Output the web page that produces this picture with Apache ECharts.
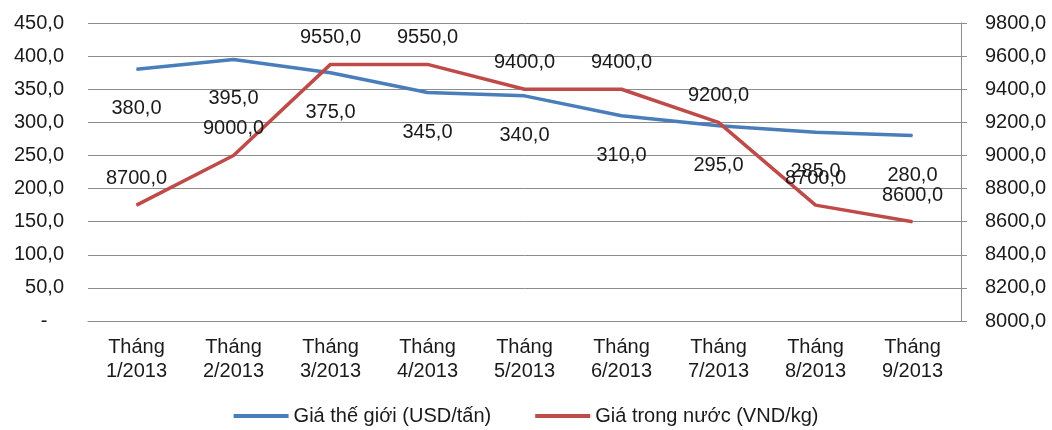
<!DOCTYPE html>
<html><head><meta charset="utf-8">
<script src="https://cdn.jsdelivr.net/npm/echarts@6/dist/echarts.min.js"></script>
<style>html,body{margin:0;padding:0;background:#fff}#c{width:1052px;height:430px}</style>
</head><body><div id="c"></div>
<script>
const categories = ['Tháng\n1/2013','Tháng\n2/2013','Tháng\n3/2013','Tháng\n4/2013','Tháng\n5/2013','Tháng\n6/2013','Tháng\n7/2013','Tháng\n8/2013','Tháng\n9/2013'];
const worldPrice = [380,395,375,345,340,310,295,285,280];
const domesticPrice = [8700,9000,9550,9550,9400,9400,9200,8700,8600];
const seriesNames = ['Giá thế giới (USD/tấn)','Giá trong nước (VND/kg)'];

const fmt = v => v.toFixed(1).replace('.', ',');
const FONT = 'Liberation Sans, Arial, sans-serif';
const FS = 20;
const chart = echarts.init(document.getElementById('c'));
chart.setOption({
  animation:false,
  textStyle:{fontFamily:FONT},
  grid:{left:88,right:91,top:23,bottom:109},
  legend:{bottom:-1,left:'center',itemWidth:55,itemHeight:4,itemGap:44,icon:'rect',
    textStyle:{fontSize:FS,color:'#1a1a1a',fontFamily:FONT},data:seriesNames},
  xAxis:{type:'category',data:categories,boundaryGap:true,
    axisLine:{lineStyle:{color:'#8c8c8c',width:1}},axisTick:{show:false},
    axisLabel:{fontSize:FS,color:'#1a1a1a',lineHeight:24,margin:14,interval:0}},
  yAxis:[
    {type:'value',min:0,max:450,interval:50,
      axisLine:{show:false},axisTick:{show:false},
      splitLine:{lineStyle:{color:'#8c8c8c',width:1}},
      axisLabel:{fontSize:FS,color:'#1a1a1a',margin:24,formatter:v=> v===0?'-   ':fmt(v)}},
    {type:'value',min:8000,max:9800,interval:200,
      axisLine:{show:true,lineStyle:{color:'#8c8c8c',width:1}},
      axisTick:{show:true,length:6,lineStyle:{color:'#8c8c8c'}},
      splitLine:{show:false},
      axisLabel:{fontSize:FS,color:'#1a1a1a',margin:24,formatter:v=>fmt(v)}}
  ],
  series:[
    {name:seriesNames[0],type:'line',yAxisIndex:0,data:worldPrice,symbol:'circle',symbolSize:1,showSymbol:true,
      lineStyle:{color:'#4A7EBB',width:3.5},itemStyle:{color:'#4A7EBB'},
      label:{show:true,position:'bottom',distance:29,fontSize:FS,color:'#1a1a1a',formatter:p=>fmt(p.value)}},
    {name:seriesNames[1],type:'line',yAxisIndex:1,data:domesticPrice,symbol:'circle',symbolSize:1,showSymbol:true,
      lineStyle:{color:'#BE4B48',width:3.5},itemStyle:{color:'#BE4B48'},
      label:{show:true,position:'top',distance:16,fontSize:FS,color:'#1a1a1a',formatter:p=>fmt(p.value)}}
  ]
});
</script></body></html>
